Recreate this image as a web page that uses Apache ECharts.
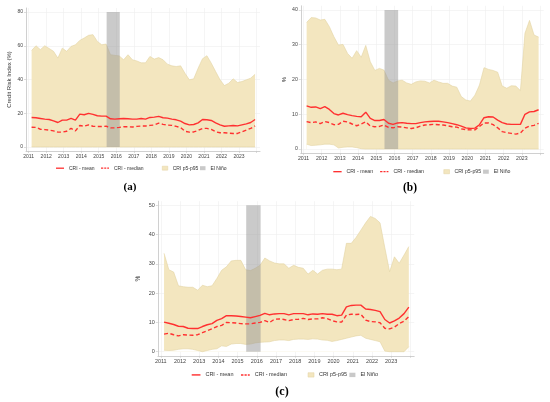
<!DOCTYPE html>
<html lang="en">
<head>
    <meta charset="UTF-8">
    <title>CRI panels</title>
    <style>
        html, body { margin: 0; padding: 0; background: #fff; }
        #root { width: 550px; height: 402px; }
    </style>
</head>
<body>
    <div id="root"></div>
    <script src="https://cdn.jsdelivr.net/npm/echarts@6/dist/echarts.min.js"></script>
    <script>
        // quarterly observations, 2011Q1 .. 2023Q4
        var years = [2011, 2012, 2013, 2014, 2015, 2016, 2017, 2018, 2019, 2020, 2021, 2022, 2023];
        var quarterPos = [0.17, 0.42, 0.67, 0.92];
        var yearTicks = [2011, 2012, 2013, 2014, 2015, 2016, 2017, 2018, 2019, 2020, 2021, 2022, 2023, 2024];
        var yearLabels = [2011, 2012, 2013, 2014, 2015, 2016, 2017, 2018, 2019, 2020, 2021, 2022, 2023];
        var elNino = [2015.45, 2016.2];
        var legendNames = ['CRI - mean', 'CRI - median', 'CRI p5-p95', 'El Niño'];

        // (a)
        var aTicks = [0, 20, 40, 60, 80];
        var aP95 = [
            57.2, 60.0, 57.7, 60.0,
            58.4, 56.7, 52.7, 58.6,
            56.7, 59.6, 60.6, 63.2,
            64.6, 66.2, 66.6, 62.6,
            60.6, 61.0, 54.7, 54.3,
            54.0, 51.7, 54.7, 51.7,
            51.0, 49.9, 49.9, 53.7,
            52.1, 53.0, 51.7, 49.1,
            48.1, 47.7, 48.1, 43.7,
            39.8, 40.4, 46.7, 52.3,
            54.1, 49.7, 44.7, 39.8,
            36.4, 37.8, 40.4, 38.2,
            38.8, 39.8, 40.8, 43.1
        ];
        var aP5 = [
            0, 0, 0, 0,
            0, 0, 0, 0,
            0, 0, 0, 0,
            0, 0, 0, 0,
            0, 0, 0, 0,
            0, 0, 0, 0,
            0, 0, 0, 0,
            0, 0, 0, 0,
            0, 0, 0, 0,
            0, 0, 0, 0,
            0, 0, 0, 0,
            0, 0, 0, 0,
            0, 0, 0, 0
        ];
        var aMean = [
            17.5, 17.3, 16.9, 16.5,
            16.3, 15.5, 14.5, 15.9,
            15.9, 16.9, 15.9, 19.5,
            19.1, 19.9, 19.3, 18.5,
            18.3, 18.3, 16.7, 16.5,
            16.7, 16.9, 16.7, 16.5,
            16.5, 16.9, 16.5, 17.5,
            17.7, 18.1, 17.3, 17.1,
            16.5, 16.1, 15.3, 13.9,
            13.1, 13.3, 14.3, 16.3,
            16.1, 15.7, 14.3, 13.1,
            12.3, 12.5, 12.7, 12.5,
            13.1, 13.7, 14.5, 16.3
        ];
        var aMedian = [
            11.7, 11.6, 10.5, 10.3,
            10.0, 9.5, 8.8, 8.8,
            9.3, 11.0, 9.5, 12.7,
            12.3, 13.1, 12.3, 12.1,
            12.1, 12.3, 11.3, 11.3,
            11.6, 12.0, 12.0, 11.8,
            12.2, 12.4, 12.4, 12.8,
            13.0, 14.1, 13.4, 13.0,
            12.8, 12.2, 11.5, 9.3,
            8.8, 8.9, 9.8, 11.0,
            11.0, 10.4, 9.0, 8.4,
            8.4, 8.2, 8.0, 8.0,
            9.0, 10.0, 11.0, 12.5
        ];

        // (b)
        var bTicks = [0, 10, 20, 30, 40];
        var bP95 = [
            36.4, 37.8, 37.7, 37.1,
            37.3, 35.2, 32.3, 29.9,
            30.1, 27.5, 26.1, 28.3,
            26.4, 29.8, 25.1, 22.6,
            23.2, 22.7, 19.8, 19.0,
            19.6, 19.8, 19.0, 18.6,
            19.3, 19.6, 19.5, 19.0,
            19.8, 19.3, 18.9, 18.9,
            18.1, 17.8, 15.1, 14.1,
            13.8, 15.5, 18.4, 23.4,
            22.9, 22.6, 22.1, 18.1,
            17.5, 18.2, 18.1, 16.8,
            33.3, 37.0, 32.8, 32.2
        ];
        var bP5 = [
            1.4, 1.0, 1.1, 1.2,
            1.4, 1.4, 1.2, 0.3,
            0.5, 0.6, 0.6, 0.4,
            0.1, 0, 0, 0,
            0, 0, 0, 0,
            0, 0, 0, 0,
            0, 0, 0, 0,
            0, 0, 0, 0,
            0, 0, 0, 0,
            0, 0, 0, 0,
            0, 0, 0, 0,
            0, 0, 0, 0,
            0, 0, 0, 0
        ];
        var bMean = [
            12.4, 12.0, 12.1, 11.6,
            12.2, 11.4, 10.2, 9.8,
            10.3, 9.9, 9.6, 9.4,
            9.3, 10.6, 8.8, 8.2,
            8.2, 8.5, 7.4, 7.1,
            7.5, 7.6, 7.4, 7.3,
            7.3, 7.6, 7.8, 7.9,
            8.0, 8.0, 7.8, 7.6,
            7.3, 7.0, 6.6, 6.1,
            5.9, 6.0, 7.0, 9.0,
            9.3, 9.2, 8.3, 7.6,
            7.2, 7.1, 7.1, 7.1,
            10.0, 10.7, 10.8, 11.3
        ];
        var bMedian = [
            7.9, 7.6, 7.8, 7.3,
            7.9, 7.6, 7.0, 7.1,
            8.0, 7.8, 7.2, 6.7,
            7.2, 7.8, 6.6, 6.4,
            6.5, 6.9, 6.2, 6.1,
            6.4, 6.3, 6.1, 5.9,
            6.1, 6.6, 6.9, 7.0,
            7.1, 7.0, 6.9, 6.7,
            6.4, 6.3, 5.8, 5.6,
            5.5, 5.5, 6.5, 7.5,
            7.5, 7.0, 6.1, 5.0,
            4.7, 4.5, 4.3, 4.6,
            6.0, 6.6, 6.8, 7.4
        ];

        // (c)
        var cTicks = [0, 10, 20, 30, 40, 50];
        var cP95 = [
            33.6, 28.0, 27.2, 22.5,
            22.2, 22.0, 22.0, 21.0,
            22.7, 22.2, 22.5, 25.0,
            27.8, 29.0, 31.0, 31.2,
            31.2, 28.0, 27.7, 28.5,
            29.5, 32.0, 31.0, 30.3,
            30.0, 30.0, 28.5, 29.5,
            28.8, 28.5, 26.5, 27.8,
            26.5, 27.8, 28.2, 28.2,
            28.0, 28.2, 37.0, 37.0,
            39.0, 41.5, 44.0, 46.2,
            45.5, 44.0, 35.5, 27.3,
            32.4, 30.2, 33.0, 35.9
        ];
        var cP5 = [
            0.5, 0.4, 0.5, 0.8,
            1.0, 1.0, 0.8, 0.4,
            0, 0.4, 0.8, 1.0,
            2.0, 1.8, 2.6, 2.8,
            2.8, 2.5, 2.6, 3.0,
            3.2, 3.3, 3.4, 3.8,
            4.0, 4.0, 3.8, 4.2,
            4.3, 4.3, 4.2, 4.4,
            4.3, 4.0, 3.9, 3.5,
            3.8, 4.2, 4.6, 5.0,
            5.4, 5.6, 4.6, 4.2,
            3.8, 3.4, 0.2, 0,
            0, 0, 0, 1.7
        ];
        var cMean = [
            10.1, 9.7, 9.3, 8.7,
            8.6, 8.0, 7.9, 7.9,
            8.6, 9.2, 9.6, 10.7,
            11.3, 12.3, 12.3, 12.2,
            12.0, 11.8, 11.6, 12.0,
            12.4, 13.1, 12.6, 12.9,
            13.0, 13.0, 12.6, 13.0,
            13.0, 13.0, 12.6, 12.9,
            12.8, 13.0, 12.8, 12.8,
            12.3, 12.5, 15.3, 15.8,
            15.9, 15.9, 14.6, 14.4,
            14.1, 13.7, 11.0, 9.8,
            10.5, 11.5, 13.0, 15.2
        ];
        var cMedian = [
            6.0, 6.3, 5.8, 5.4,
            5.8, 5.7, 5.6, 5.8,
            6.5, 7.2, 7.8, 8.6,
            9.0, 10.0, 9.9, 9.8,
            9.6, 9.5, 9.5, 9.8,
            10.0, 10.6, 10.0, 11.1,
            11.2, 11.0, 10.6, 11.0,
            11.1, 11.4, 11.0, 11.2,
            11.2, 11.6, 11.3, 10.6,
            10.2, 10.1, 12.5, 12.8,
            12.7, 12.8, 10.8, 10.3,
            10.2, 9.9, 8.0, 7.8,
            8.4, 9.6, 10.4, 12.0
        ];

        var dates = [];
        years.forEach(function (y) {
            quarterPos.forEach(function (q) { dates.push(+(y + q).toFixed(2)); });
        });
        function pairs(vals) {
            return vals.map(function (v, i) { return [dates[i], v]; });
        }

        var red = '#ff3030';
        var bandFill = '#f3e6bf';
        var bandEdge = '#e3d3a3';
        var ninoFill = 'rgba(150,150,150,0.5)';
        var axisGrey = '#c4c4c4';
        var font = '"Liberation Sans", Arial, sans-serif';
        var solidIcon = 'path://M0,0h16v2.6H0z';
        var dashIcon = 'path://M0,0h4.5v2.6H0zM6.5,0h4v2.6h-4zM12.5,0h3.5v2.6h-3.5z';

        var panels = [
            { label: '(a)', p95: aP95, p5: aP5, mean: aMean, median: aMedian, ticks: aTicks,
              left: 26, right: 260, top: 8, bottom: 151, ymin: -2.4, ymax: 82.4,
              yName: 'Credit Risk Index (%)', nameGap: 14, s: 1.0,
              legX: 56, legY: 168.7, labX: 130, labY: 187 },
            { label: '(b)', p95: bP95, p5: bP5, mean: bMean, median: bMedian, ticks: bTicks,
              left: 300.8, right: 543.7, top: 5.8, bottom: 153.2, ymin: -1.2, ymax: 41.2,
              yName: '%', nameGap: 14, s: 1.04,
              legX: 333.3, legY: 172.3, labX: 410, labY: 188 },
            { label: '(c)', p95: cP95, p5: cP5, mean: cMean, median: cMedian, ticks: cTicks,
              left: 157.9, right: 414.2, top: 201.2, bottom: 355.8, ymin: -1.4, ymax: 51.4,
              yName: '%', nameGap: 16, s: 1.095,
              legX: 191.7, legY: 375.7, labX: 282, labY: 392 }
        ];
        var legendOffsets = [0, 45, 106, 144];

        var option = {
            animation: false,
            textStyle: { fontFamily: font },
            grid: [], xAxis: [], yAxis: [], series: [], legend: [], graphic: []
        };

        panels.forEach(function (p, i) {
            var fs = 5 * p.s;
            option.grid.push({ left: p.left, top: p.top, width: p.right - p.left, height: p.bottom - p.top });
            option.xAxis.push({
                type: 'value', gridIndex: i, min: 2010.85, max: 2024.2,
                axisLine: { show: true, onZero: false, lineStyle: { color: axisGrey, width: 0.8 } },
                axisTick: { show: true, length: 2, customValues: yearTicks, lineStyle: { color: axisGrey, width: 0.6 } },
                axisLabel: { customValues: yearLabels, fontSize: fs, color: '#444', margin: 3,
                    formatter: function (v) { return String(v); } },
                splitLine: { show: true, lineStyle: { color: '#efefef', width: 0.6 } }
            });
            option.yAxis.push({
                type: 'value', gridIndex: i, min: p.ymin, max: p.ymax,
                name: p.yName, nameLocation: 'middle', nameGap: p.nameGap,
                nameTextStyle: { fontSize: 6 * p.s, color: '#333' },
                axisLine: { show: true, onZero: false, lineStyle: { color: axisGrey, width: 0.8 } },
                axisTick: { show: true, length: 2, customValues: p.ticks, lineStyle: { color: axisGrey, width: 0.6 } },
                axisLabel: { customValues: p.ticks, fontSize: fs, color: '#444', margin: 3 },
                splitLine: { show: true, lineStyle: { color: '#efefef', width: 0.6 } }
            });

            // p5-p95 band: tan area up to p95, then white mask up to p5
            option.series.push({
                name: 'CRI p5-p95', type: 'line', xAxisIndex: i, yAxisIndex: i,
                data: pairs(p.p95), symbol: 'none', silent: true, z: 1,
                itemStyle: { color: bandFill },
                lineStyle: { color: bandEdge, width: 0.6 },
                areaStyle: { color: bandFill, opacity: 1 }
            });
            option.series.push({
                name: 'p5', type: 'line', xAxisIndex: i, yAxisIndex: i,
                data: pairs(p.p5), symbol: 'none', silent: true, z: 1,
                itemStyle: { color: '#fff' },
                lineStyle: { color: bandEdge, width: 0.6 },
                areaStyle: { color: '#fff', opacity: 1 }
            });
            option.series.push({
                name: 'El Niño', type: 'line', xAxisIndex: i, yAxisIndex: i,
                data: [[elNino[0], 0]], symbol: 'none', silent: true, z: 2,
                itemStyle: { color: '#c8c8c8' }, lineStyle: { width: 0 },
                markArea: {
                    silent: true, z: 2,
                    itemStyle: { color: ninoFill },
                    data: [[{ xAxis: elNino[0], yAxis: 0 }, { xAxis: elNino[1], yAxis: p.ticks[p.ticks.length - 1] }]]
                }
            });
            option.series.push({
                name: 'CRI - mean', type: 'line', xAxisIndex: i, yAxisIndex: i,
                data: pairs(p.mean), symbol: 'none', z: 3,
                itemStyle: { color: red }, lineStyle: { color: red, width: 1.4 }
            });
            option.series.push({
                name: 'CRI - median', type: 'line', xAxisIndex: i, yAxisIndex: i,
                data: pairs(p.median), symbol: 'none', z: 3,
                itemStyle: { color: red }, lineStyle: { color: red, width: 1.4, type: [4, 2.5] }
            });

            legendNames.forEach(function (name, k) {
                var isLine = k < 2;
                var item = { name: name };
                if (k === 0) {
                    item.icon = solidIcon;
                    item.itemStyle = { color: red, borderWidth: 0 };
                } else if (k === 1) {
                    item.icon = dashIcon;
                    item.itemStyle = { color: red, borderWidth: 0 };
                } else if (k === 2) {
                    item.icon = 'rect';
                    item.itemStyle = { color: bandFill, borderColor: bandEdge, borderWidth: 0.5 };
                } else {
                    item.icon = 'rect';
                    item.itemStyle = { color: '#c9c9c9', borderWidth: 0 };
                }
                option.legend.push({
                    left: p.legX + legendOffsets[k] * p.s,
                    top: p.legY - 3 * p.s,
                    padding: 0, itemGap: 0, selectedMode: false,
                    itemWidth: (isLine ? 8 : 5.5) * p.s,
                    itemHeight: 4 * p.s,
                    textStyle: { fontSize: fs, color: '#333' },
                    data: [item]
                });
            });

            option.graphic.push({
                type: 'text', x: p.labX, y: p.labY,
                style: {
                    text: p.label, fill: '#000', align: 'center', verticalAlign: 'middle',
                    fontSize: 11 * p.s, fontWeight: 'bold', fontFamily: '"Liberation Serif", "Times New Roman", serif'
                }
            });
        });

        var chart = echarts.init(document.getElementById('root'));
        chart.setOption(option);
    </script>
</body>
</html>
